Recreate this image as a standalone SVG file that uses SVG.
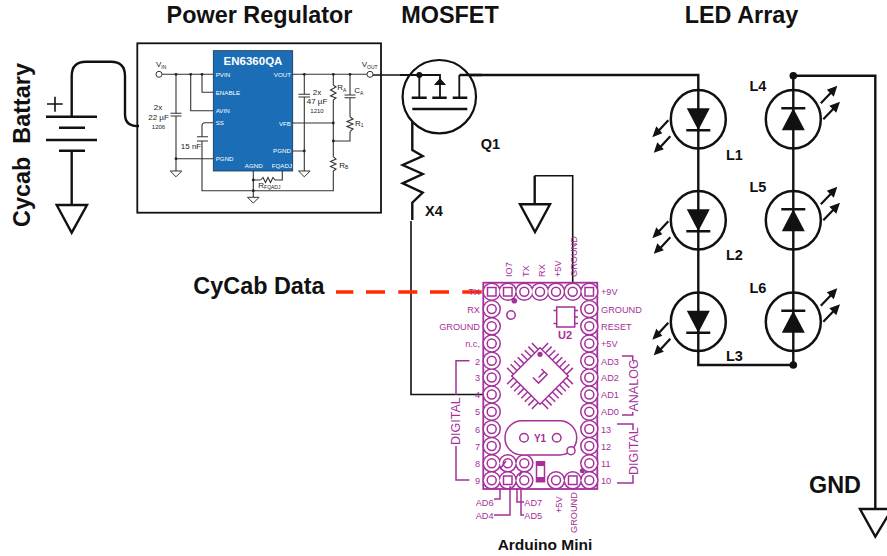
<svg xmlns="http://www.w3.org/2000/svg" xmlns:xlink="http://www.w3.org/1999/xlink" width="887" height="556" viewBox="0 0 887 556">
<style>
text{font-family:"Liberation Sans",Arial,sans-serif}
.title{font-size:23.4px;font-weight:700;fill:#111;text-anchor:middle}
.lbl{font-size:14.5px;font-weight:700;fill:#111}
.w{fill:none;stroke:#111;stroke-width:2.4}
.t{fill:none;stroke:#111;stroke-width:1.6}
.s{fill:none;stroke:#333;stroke-width:1.1}
.k{fill:#222}
.chipt{font-size:6.2px;fill:#fff}
.rt{font-size:8px;fill:#222}
.rt tspan{font-size:5px}
.sm{font-size:6px;fill:#222;text-anchor:middle}
.mid{text-anchor:middle}
.gnd{fill:#fff;stroke:#111;stroke-width:2.4;stroke-linejoin:miter}
.sg{fill:#fff;stroke:#333;stroke-width:1}
.p{fill:none;stroke:#a5309a;stroke-width:1.5}
.pf{fill:#a5309a}
.pt{font-size:9.2px;fill:#a5309a}
.led{fill:#fff;stroke:#111;stroke-width:2.5}
.arr{stroke:#111;stroke-width:2.2;fill:none}
#pads circle{r:7.8px}
</style>
<defs>
<g id="downled">
<ellipse class="led" rx="27.500" ry="29.200"/>
<path class="w" d="M0-29V29M-12 11H12"/>
<path d="M-11.500-11H11.500L0 11Z" fill="#111"/>
<path class="arr" d="M-30 1L-42 14M-28 17L-40 30"/>
<path d="M-46 18L-42 7L-36 14ZM-44.500 33.500L-41 23L-34.500 30Z" fill="#111"/>
</g>
<g id="upled">
<ellipse class="led" rx="27.500" ry="29.200"/>
<path class="w" d="M0-29V29M-12-11H12"/>
<path d="M-11.500 11H11.500L0-11Z" fill="#111"/>
<path class="arr" d="M27.500-16L40-29M30 0L42.500-13"/>
<path d="M44-33.500L40.500-22.500L33.500-29.500ZM46.700-17.500L43-6.500L36-13.500Z" fill="#111"/>
</g>
<path id="sgnd" class="sg" d="M-5.800 0H5.800L0 5.800Z"/>
<g id="pads">
<circle cx="491.700" cy="291.700"/><circle cx="507.700" cy="291.700"/><circle cx="524.300" cy="291.700"/><circle cx="540" cy="291.700"/><circle cx="556" cy="291.700"/><circle cx="572.700" cy="291.700"/><circle cx="589.300" cy="291.700"/>
<circle cx="491.700" cy="309"/><circle cx="491.700" cy="326.300"/><circle cx="491.700" cy="343.500"/><circle cx="491.700" cy="360.700"/><circle cx="491.700" cy="377.500"/><circle cx="491.700" cy="394.500"/><circle cx="491.700" cy="411.700"/><circle cx="491.700" cy="429"/><circle cx="491.700" cy="446"/><circle cx="491.700" cy="463.300"/><circle cx="491.700" cy="480.300"/>
<circle cx="589.300" cy="309"/><circle cx="589.300" cy="326.300"/><circle cx="589.300" cy="343.500"/><circle cx="589.300" cy="360.700"/><circle cx="589.300" cy="377.500"/><circle cx="589.300" cy="394.500"/><circle cx="589.300" cy="411.700"/><circle cx="589.300" cy="429"/><circle cx="589.300" cy="446"/><circle cx="589.300" cy="463.300"/><circle cx="589.300" cy="480.300"/>
<circle cx="507.700" cy="463.300"/><circle cx="524.300" cy="463.300"/><circle cx="507.700" cy="480.300"/><circle cx="524.300" cy="480.300"/><circle cx="556" cy="480.300"/><circle cx="572.700" cy="480.300"/>
</g>
</defs>
<rect width="887" height="556" fill="#fff"/>

<g id="titles">
<text class="title" x="259.500" y="23">Power Regulator</text>
<text class="title" x="450" y="23">MOSFET</text>
<text class="title" x="741.500" y="23">LED Array</text>
<text class="title" x="259" y="294">CyCab Data</text>
<text class="title" x="835" y="492.500">GND</text>
<text class="title" transform="translate(30,145) rotate(-90)" xml:space="preserve">Cycab  Battary</text>
</g>

<g id="connectors">
<path class="w" d="M71.700 116V76Q71.700 61.700 86 61.700H111Q125 61.700 125 76V114Q125 126 137 126H139"/>
<path class="w" d="M71.700 151V205"/>
<path class="t" d="M372 75H419.300"/>
<path class="w" d="M459.300 75H698.300V91"/>
<path class="w" d="M698.300 148V191M698.300 249V293M698.300 351V365H793.300V351M793.300 293V249M793.300 191V148M793.300 91V75.700H875.300V509"/>
<path class="w" d="M412.300 109V150L422.700 156L402.700 165L422.700 174L402.700 183.300L422.700 192.700L412.300 202.700V220"/>
<path class="t" d="M411 221V394.500H490"/>
<path class="t" d="M572.700 290V175.700H534.700"/>
<path class="w" d="M534.700 175.700V204"/>
<path d="M336 292H353.300M366 292H385M398.300 292H417.300M430 292H449M462.300 292H481.700" fill="none" stroke="#ff2a00" stroke-width="3.500"/>
</g>

<g id="battery">
<path class="w" d="M46 116.700H97M59 127.700H85M46 140H97M59 150.700H85"/>
<path class="t" d="M47 104H62.700M55 96.700V111.700"/>
<path class="gnd" d="M56.700 205H87L71.700 232.700Z"/>
</g>

<g id="regulator">
<rect x="137.300" y="43.300" width="243.700" height="169.400" fill="#fff" stroke="#111" stroke-width="1.800" fill-opacity="0"/>
<path class="s" d="M162 74.300H213M176 74.300V113.300M176 116V171M176 158.700H213M190.700 74.300V110.700H213M202 74.300V92.300H213M213 122.700H205Q202 122.700 202 126V136.700M202 141V190.700H333.300V171M292 74.300H367M304.300 74.300V94.300M304.300 97V171M292 151H304.300M292 123H333.300M333.300 74.300V85M333.300 100V156.700M350 74.300V95M350 97.700V116.700M350 131.700V141H333.300M253.300 171V197.300M253.300 180H260.700M275 180H282.300V171"/>
<path class="s" d="M170.500 113.300H181.500M170.500 116H181.500M197 136.700H208M197 141H208M298.500 94.300H310M298.500 97H310M344.500 95H355.500M344.500 97.700H355.500"/>
<path class="s" d="M333.300 85L336 87L330.500 90L336 93L330.500 96L336 98L333.300 100M333.300 156.700L336 159L330.500 161.500L336 164L330.500 166.500L336 169L333.300 171M350 116.700L353 119L347 121.500L353 124L347 126.500L353 129L350 131.700M260.700 180L263 177.500L265.500 182.500L268 177.500L270.500 182.500L273 177.500L275 180"/>
<use xlink:href="#sgnd" href="#sgnd" x="176" y="171"/>
<use xlink:href="#sgnd" href="#sgnd" x="304.300" y="171"/>
<use xlink:href="#sgnd" href="#sgnd" x="253.300" y="197.300"/>
<circle cx="159" cy="74.300" r="3" fill="#fff" stroke="#333" stroke-width="1"/>
<circle cx="370" cy="74.300" r="3" fill="#fff" stroke="#333" stroke-width="1"/>
<g class="k"><circle cx="176" cy="74.300" r="1.400"/><circle cx="190.700" cy="74.300" r="1.400"/><circle cx="202" cy="74.300" r="1.400"/><circle cx="176" cy="158.700" r="1.400"/><circle cx="304.300" cy="74.300" r="1.400"/><circle cx="333.300" cy="74.300" r="1.400"/><circle cx="350" cy="74.300" r="1.400"/><circle cx="304.300" cy="151" r="1.400"/><circle cx="333.300" cy="123" r="1.400"/><circle cx="333.300" cy="141" r="1.400"/><circle cx="253.300" cy="180" r="1.400"/><circle cx="253.300" cy="190.700" r="1.400"/></g>
<rect x="213.300" y="50.700" width="79.400" height="120.300" fill="#1b6db5" stroke="#15324f" stroke-width="0.800"/>
<text x="253" y="64.500" fill="#fff" font-size="11.500" font-weight="700" text-anchor="middle">EN6360QA</text>
<text class="chipt" x="215.700" y="76.500">PVIN</text>
<text class="chipt" x="215.700" y="94.500">ENABLE</text>
<text class="chipt" x="215.700" y="113">AVIN</text>
<text class="chipt" x="215.700" y="125">SS</text>
<text class="chipt" x="215.700" y="160.500">PGND</text>
<text class="chipt" x="291" y="76.500" text-anchor="end">VOUT</text>
<text class="chipt" x="291" y="125.500" text-anchor="end">VFB</text>
<text class="chipt" x="291" y="153" text-anchor="end">PGND</text>
<text class="chipt" x="262.700" y="167.700" text-anchor="end">AGND</text>
<text class="chipt" x="292" y="167.700" text-anchor="end">FQADJ</text>
<text class="rt" x="156" y="67">V<tspan dy="1.500">IN</tspan></text>
<text class="rt" x="361.700" y="67">V<tspan dy="1.500">OUT</tspan></text>
<text class="rt mid" x="158" y="110">2x</text>
<text class="rt mid" x="158.500" y="120">22 µF</text>
<text class="sm" x="158.500" y="129">1206</text>
<text class="rt mid" x="191" y="149.300">15 nF</text>
<text class="rt mid" x="317" y="95">2x</text>
<text class="rt mid" x="317" y="104.300">47 µF</text>
<text class="sm" x="317" y="113">1210</text>
<text class="rt" x="337.300" y="90">R<tspan dy="1.500">A</tspan></text>
<text class="rt" x="354.300" y="93.300">C<tspan dy="1.500">A</tspan></text>
<text class="rt" x="355" y="125.700">R<tspan dy="1.500">1</tspan></text>
<text class="rt" x="339.300" y="167.700">R<tspan dy="1.500">B</tspan></text>
<text class="rt" x="258.300" y="187.700">R<tspan dy="1.500">FQADJ</tspan></text>
</g>

<g id="mosfet">
<circle cx="439.300" cy="96.700" r="36.700" fill="#fff" stroke="#111" stroke-width="2.200"/>
<path class="t" d="M400 75H440V97.700M419.300 75V97.700M459.300 75V97.700" style="stroke-width:1.800"/>
<path class="w" d="M411.700 97.700H426.700M432.300 97.700H446.700M452.700 97.700H467.300M412.300 109H467.300"/>
<path d="M434 85H446L440 78Z" fill="#111"/>
<circle cx="419.300" cy="75" r="3" fill="#111"/>
<path class="w" d="M459.300 75H482"/>
<text class="lbl" x="480.700" y="149">Q1</text>
<text class="lbl" x="425" y="216">X4</text>
</g>

<g id="led-array">
<use xlink:href="#downled" href="#downled" x="698.300" y="119.200"/>
<use xlink:href="#downled" href="#downled" x="698.300" y="220.200"/>
<use xlink:href="#downled" href="#downled" x="698.300" y="321.700"/>
<use xlink:href="#upled" href="#upled" x="793.300" y="119.200"/>
<use xlink:href="#upled" href="#upled" x="793.300" y="220.200"/>
<use xlink:href="#upled" href="#upled" x="793.300" y="321.700"/>
<circle cx="793.300" cy="75.700" r="3.800" fill="#111"/>
<circle cx="793.300" cy="365" r="3.800" fill="#111"/>
<text class="lbl" x="726" y="160">L1</text>
<text class="lbl" x="726" y="260">L2</text>
<text class="lbl" x="726" y="361">L3</text>
<text class="lbl" x="749.500" y="90.700">L4</text>
<text class="lbl" x="749.500" y="191.700">L5</text>
<text class="lbl" x="749.500" y="292.700">L6</text>
</g>

<g id="gnd-symbols">
<path class="gnd" d="M520 204.300H550L535 232Z"/>
<path class="gnd" d="M860 509H892L875.300 536.700Z"/>
</g>

<g id="arduino">
<rect x="483.300" y="282.700" width="114" height="206.300" fill="#fff" stroke="#a5309a" stroke-width="1.800"/>
<use xlink:href="#pads" href="#pads" fill="none" stroke="#a5309a" stroke-width="3"/>
<use xlink:href="#pads" href="#pads" fill="#fff"/>
<g class="p">
<circle cx="491.700" cy="309" r="4.500"/><circle cx="491.700" cy="326.300" r="4.500"/><circle cx="491.700" cy="343.500" r="4.500"/><circle cx="491.700" cy="360.700" r="4.500"/><circle cx="491.700" cy="377.500" r="4.500"/><circle cx="491.700" cy="394.500" r="4.500"/><circle cx="491.700" cy="411.700" r="4.500"/><circle cx="491.700" cy="429" r="4.500"/><circle cx="491.700" cy="446" r="4.500"/><circle cx="491.700" cy="463.300" r="4.500"/><circle cx="491.700" cy="480.300" r="4.500"/>
<circle cx="589.300" cy="309" r="4.500"/><circle cx="589.300" cy="326.300" r="4.500"/><circle cx="589.300" cy="343.500" r="4.500"/><circle cx="589.300" cy="360.700" r="4.500"/><circle cx="589.300" cy="377.500" r="4.500"/><circle cx="589.300" cy="394.500" r="4.500"/><circle cx="589.300" cy="411.700" r="4.500"/><circle cx="589.300" cy="429" r="4.500"/><circle cx="589.300" cy="446" r="4.500"/><circle cx="589.300" cy="463.300" r="4.500"/><circle cx="589.300" cy="480.300" r="4.500"/>
<circle cx="524.300" cy="291.700" r="4.500"/><circle cx="540" cy="291.700" r="4.500"/><circle cx="556" cy="291.700" r="4.500"/><circle cx="572.700" cy="291.700" r="4.500"/>
<rect x="487.500" y="287.500" width="8.500" height="8.500"/><rect x="503.500" y="287.500" width="8.500" height="8.500"/><rect x="585" y="287.500" width="8.500" height="8.500"/>
<circle cx="507.700" cy="463.300" r="4.500"/><circle cx="524.300" cy="463.300" r="4.500"/><circle cx="524.300" cy="480.300" r="4.500"/><circle cx="556" cy="480.300" r="4.500"/>
<rect x="503.500" y="476" width="8.500" height="8.500"/><rect x="568.500" y="476" width="8.500" height="8.500"/>
<circle cx="511" cy="315" r="4.200"/>
<rect x="505" y="420.700" width="71.700" height="34.300" rx="17" fill="#fff"/>
<circle cx="571" cy="450.700" r="4" fill="#fff"/>
<circle cx="524" cy="437.700" r="4.300"/><circle cx="556.700" cy="437.700" r="4.300"/>
<rect x="556.700" y="307" width="18" height="20"/>
<path d="M553.500 310.500H556.700M553.500 323.500H556.700M574.700 310.500H578M574.700 317H578M574.700 323.500H578"/>
<path d="M536.500 461.700H544.500V481.700H536.500Z"/>
<path d="M500 469L506 461M519 476L522 472M500 488V499H494M510 486V515H494M517 488V502H524M521 489V515H524"/>
<path d="M469.500 360.700H456V395M456 446V480H469.500M622 356H632.700V361M632.700 412V415H622M617 424H633V430M633 475V483H617"/>
</g>
<rect x="537" y="462" width="7" height="4" class="pf"/>
<rect x="537" y="477" width="7" height="4" class="pf"/>
<circle class="pf" cx="514.300" cy="300.700" r="2.800"/>
<circle class="pf" cx="582.300" cy="470.700" r="2.500"/>
<g transform="translate(540,376) rotate(45)" class="p">
<rect x="-20" y="-20" width="40" height="40" fill="#fff"/>
<path d="M-17.500-20V-29M-12.500-20V-29M-7.500-20V-29M-2.500-20V-29M2.500-20V-29M7.500-20V-29M12.500-20V-29M17.500-20V-29M-17.500 20V29M-12.500 20V29M-7.500 20V29M-2.500 20V29M2.500 20V29M7.500 20V29M12.500 20V29M17.500 20V29M-20-17.500H-29M-20-12.500H-29M-20-7.500H-29M-20-2.500H-29M-20 2.500H-29M-20 7.500H-29M-20 12.500H-29M-20 17.500H-29M20-17.500H29M20-12.500H29M20-7.500H29M20-2.500H29M20 2.500H29M20 7.500H29M20 12.500H29M20 17.500H29"/>
<path d="M-4 6H4V-6H-4M0-6V2"/>
</g>
<circle class="pf" cx="540" cy="354.300" r="2.600"/>

<g class="pt" text-anchor="end">
<text x="480" y="295">TX</text><text x="480" y="312.500">RX</text><text x="480" y="330">GROUND</text><text x="480" y="347">n.c,</text><text x="480" y="364.500">2</text><text x="480" y="381">3</text><text x="480" y="398">4</text><text x="480" y="415">5</text><text x="480" y="432.500">6</text><text x="480" y="449.500">7</text><text x="480" y="467">8</text><text x="480" y="484">9</text>
</g>
<g class="pt">
<text x="601" y="295">+9V</text><text x="601" y="312.500">GROUND</text><text x="601" y="330">RESET</text><text x="601" y="347">+5V</text><text x="601" y="364.500">AD3</text><text x="601" y="381">AD2</text><text x="601" y="398">AD1</text><text x="601" y="415">AD0</text><text x="601" y="432.500">13</text><text x="601" y="449.500">12</text><text x="601" y="467">11</text><text x="601" y="484">10</text>
<text transform="translate(511.700,277) rotate(-90)">IO7</text>
<text transform="translate(529,277) rotate(-90)">TX</text>
<text transform="translate(545,277) rotate(-90)">RX</text>
<text transform="translate(561,277) rotate(-90)">+5V</text>
<text transform="translate(576.700,277) rotate(-90)">GROUND</text>
<text transform="translate(561.700,513) rotate(-90)">+5V</text>
<text transform="translate(577,533) rotate(-90)">GROUND</text>
<text x="475.700" y="506">AD6</text><text x="475.700" y="519">AD4</text><text x="524.300" y="506">AD7</text><text x="524.300" y="519">AD5</text>
<text transform="translate(460,445) rotate(-90)" style="font-size:12.500px">DIGITAL</text>
<text transform="translate(638,411.500) rotate(-90)" style="font-size:12.500px">ANALOG</text>
<text transform="translate(637.500,475) rotate(-90)" style="font-size:12.500px">DIGITAL</text>
</g>
<text x="565" y="339" text-anchor="middle" fill="#a5309a" font-size="11" font-weight="700">U2</text>
<text x="540" y="442" text-anchor="middle" fill="#a5309a" font-size="10" font-weight="700">Y1</text>
<text x="545" y="550" text-anchor="middle" fill="#111" font-size="15.500" font-weight="700">Arduino Mini</text>
</g>
</svg>
